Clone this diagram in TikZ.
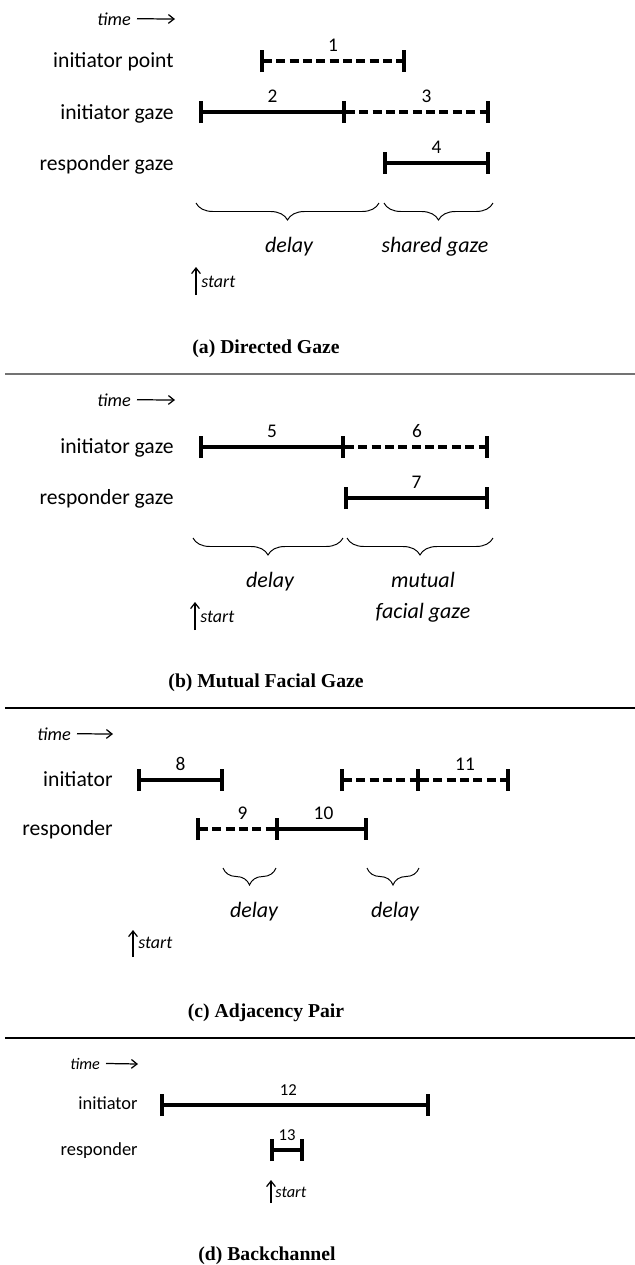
\documentclass[tikz,border=0pt]{standalone}
\usepackage{fontspec}
\setmainfont{Carlito}
\newfontfamily\capfont{Liberation Serif}
\usetikzlibrary{arrows.meta,decorations.pathreplacing}

\tikzset{
  lbl/.style={font=\fontsize{12.3}{14}\selectfont, anchor=base east, inner sep=0pt},
  lblsmall/.style={font=\fontsize{10.5}{12}\selectfont, anchor=base east, inner sep=0pt},
  tm/.style={font=\fontsize{10.4}{12}\selectfont\itshape, anchor=base east},
  tmsmall/.style={font=\fontsize{9.2}{11}\selectfont\itshape, anchor=base east},
  num/.style={font=\fontsize{11}{13}\selectfont, anchor=base, inner sep=0pt, yshift=0.19cm},
  numsmall/.style={font=\fontsize{9.5}{11}\selectfont, anchor=base, inner sep=0pt, yshift=0.19cm},
  tick/.tip={Bar[width=0.44cm,line width=2.2pt]},
  seg/.style={line width=2pt, tick-tick},
  segr/.style={line width=2pt, -tick},
  dseg/.style={seg, dash pattern=on 5.1pt off 2.5pt},
  dsegr/.style={segr, dash pattern=on 5.1pt off 2.5pt},
  timearrow/.style={line width=0.7pt, -{Straight Barb[length=3.2pt,width=5pt]}},
  startarrow/.style={line width=0.7pt, -{Straight Barb[length=3.2pt,width=5pt]}},
  brc/.style={decorate, decoration={brace, mirror, amplitude=0.34cm}, line width=0.55pt},
  brclbl/.style={font=\fontsize{12.5}{15}\selectfont\itshape, anchor=base},
  st/.style={font=\fontsize{10.2}{12}\selectfont\itshape, anchor=base west, inner sep=0pt},
  stsmall/.style={font=\fontsize{9.3}{11}\selectfont\itshape, anchor=base west, inner sep=0pt},
  caption/.style={font=\capfont\fontsize{11.2}{13}\selectfont\bfseries, anchor=base}
}

\begin{document}
\begin{tikzpicture}[x=0.02cm, y=-0.02cm]
\useasboundingbox (0,0) rectangle (635,1265);

% (a) Directed Gaze
\node[tm] (tA) at (137,25) {time};
\coordinate (tAe) at (175,19);
\draw[timearrow] (tA.east) -- (tAe);
\node[lbl] (ipA) at (174,67) {initiator point};
\node[lbl] (igA) at (174,119) {initiator gaze};
\node[lbl] (rgA) at (174,170) {responder gaze};
\coordinate (p1a) at (260,61);
\coordinate (p1b) at (406,61);
\coordinate (g2a) at (199,112);
\coordinate (g2b) at (346,112);
\coordinate (g3b) at (490,112);
\coordinate (r4a) at (383,163);
\coordinate (r4b) at (490,163);
\draw[dseg] (p1a) -- node[num] (n1) {1} (p1b);
\draw[seg] (g2a) -- node[num] (n2) {2} (g2b);
\draw[dsegr] (g2b) -- node[num, pos=0.56] (n3) {3} (g3b);
\draw[seg] (r4a) -- node[num] (n4) {4} (r4b);
\coordinate (bA1) at (196,203);
\coordinate (bA2) at (379,203);
\coordinate (bA3) at (384,203);
\coordinate (bA4) at (493,203);
\draw[brc] (bA1) -- (bA2);
\draw[brc] (bA3) -- (bA4);
\node[brclbl] (dlA) at (289,252) {delay};
\node[brclbl] (sgA) at (435,252) {shared gaze};
\coordinate (sA0) at (196,295);
\coordinate (sA1) at (196,267);
\draw[startarrow] (sA0) -- (sA1);
\node[st] (stA) at (201,287) {start};
\node[caption] (capA) at (266,353) {(a) Directed Gaze};
\coordinate (hA0) at (5,374);
\coordinate (hA1) at (635,374);
\draw[line width=1.1pt, black!55] (hA0) -- (hA1);

% (b) Mutual Facial Gaze
\node[tm] (tB) at (137,406) {time};
\coordinate (tBe) at (175,400);
\draw[timearrow] (tB.east) -- (tBe);
\node[lbl] (igB) at (174,453) {initiator gaze};
\node[lbl] (rgB) at (174,504) {responder gaze};
\coordinate (g5a) at (199,447);
\coordinate (g5b) at (345,447);
\coordinate (g6b) at (489,447);
\coordinate (r7a) at (344,498);
\coordinate (r7b) at (489,498);
\draw[seg] (g5a) -- node[num] (n5) {5} (g5b);
\draw[dsegr] (g5b) -- node[num] (n6) {6} (g6b);
\draw[seg] (r7a) -- node[num] (n7) {7} (r7b);
\coordinate (bB1) at (193,538);
\coordinate (bB2) at (343,538);
\coordinate (bB3) at (347,538);
\coordinate (bB4) at (493,538);
\draw[brc] (bB1) -- (bB2);
\draw[brc] (bB3) -- (bB4);
\node[brclbl] (dlB) at (270,587) {delay};
\node[brclbl] (mfB) at (423,587) {mutual};
\node[brclbl] (fgB) at (423,618) {facial gaze};
\coordinate (sB0) at (195,630);
\coordinate (sB1) at (195,602);
\draw[startarrow] (sB0) -- (sB1);
\node[st] (stB) at (200,622) {start};
\node[caption] (capB) at (266,687) {(b) Mutual Facial Gaze};
\coordinate (hB0) at (5,708);
\coordinate (hB1) at (635,708);
\draw[line width=0.7pt] (hB0) -- (hB1);

% (c) Adjacency Pair
\node[tm] (tC) at (77,740) {time};
\coordinate (tCe) at (113,734);
\draw[timearrow] (tC.east) -- (tCe);
\node[lbl] (iC) at (113,786) {initiator};
\node[lbl] (rC) at (113,835) {responder};
\coordinate (i8a) at (137,780);
\coordinate (i8b) at (224,780);
\coordinate (i11a) at (340,780);
\coordinate (i11m) at (420,780);
\coordinate (i11b) at (510,780);
\coordinate (r9a) at (196,829);
\coordinate (r9b) at (279,829);
\coordinate (r10b) at (368,829);
\draw[seg] (i8a) -- node[num] (n8) {8} (i8b);
\draw[dseg] (i11a) -- (i11m);
\draw[dsegr] (i11m) -- node[num] (n11) {11} (i11b);
\draw[dseg] (r9a) -- node[num, pos=0.56] (n9) {9} (r9b);
\draw[segr] (r9b) -- node[num] (n10) {10} (r10b);
\coordinate (bC1) at (223,868);
\coordinate (bC2) at (276,868);
\coordinate (bC3) at (367,868);
\coordinate (bC4) at (419,868);
\draw[brc] (bC1) -- (bC2);
\draw[brc] (bC3) -- (bC4);
\node[brclbl] (dlC1) at (254,917) {delay};
\node[brclbl] (dlC2) at (395,917) {delay};
\coordinate (sC0) at (133,957);
\coordinate (sC1) at (133,930);
\draw[startarrow] (sC0) -- (sC1);
\node[st] (stC) at (138,948) {start};
\node[caption] (capC) at (266,1017) {(c) Adjacency Pair};
\coordinate (hC0) at (5,1038);
\coordinate (hC1) at (635,1038);
\draw[line width=0.7pt] (hC0) -- (hC1);

% (d) Backchannel
\node[tmsmall] (tD) at (106,1069) {time};
\coordinate (tDe) at (138,1064);
\draw[timearrow] (tD.east) -- (tDe);
\node[lblsmall] (iD) at (138,1109) {initiator};
\node[lblsmall] (rD) at (138,1155) {responder};
\coordinate (i12a) at (160,1105);
\coordinate (i12b) at (430,1105);
\coordinate (r13a) at (270,1150);
\coordinate (r13b) at (304,1150);
\draw[seg] (i12a) -- node[numsmall, pos=0.475] (n12) {12} (i12b);
\draw[seg] (r13a) -- node[numsmall] (n13) {13} (r13b);
\coordinate (sD0) at (271,1203);
\coordinate (sD1) at (271,1180);
\draw[startarrow] (sD0) -- (sD1);
\node[stsmall] (stD) at (275,1197) {start};
\node[caption] (capD) at (267,1260) {(d) Backchannel};

\end{tikzpicture}
\end{document}
